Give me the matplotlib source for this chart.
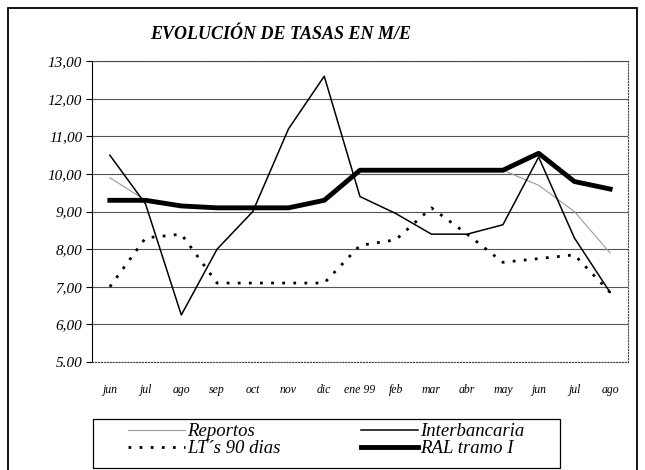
import numpy as np
import matplotlib
matplotlib.use("Agg")
from matplotlib import pyplot as plt
from matplotlib.patches import Rectangle

meses = ['jun', 'jul', 'ago', 'sep', 'oct', 'nov', 'dic', 'ene 99', 'feb',
         'mar', 'abr', 'may', 'jun', 'jul', 'ago']
reportos = [9.9, 9.3, 9.15, 9.1, 9.1, 9.1, 9.3, 10.1, 10.1, 10.1, 10.1, 10.1, 9.7, 9.0, 7.9]
interbancaria = [10.5, 9.2, 6.25, 8.0, 9.0, 11.2, 12.6, 9.4, 8.95, 8.4, 8.4, 8.65, 10.45, 8.3, 6.85]
lts_90 = [7.0, 8.3, 8.4, 7.1, 7.1, 7.1, 7.1, 8.1, 8.25, 9.1, 8.4, 7.65, 7.75, 7.85, 6.85]
ral_tramo = [9.3, 9.3, 9.15, 9.1, 9.1, 9.1, 9.3, 10.1, 10.1, 10.1, 10.1, 10.1, 10.55, 9.8, 9.6]
yticks = [5, 6, 7, 8, 9, 10, 11, 12, 13]
ylabels = ['5.00', '6,00', '7,00', '8,00', '9,00', '10,00', '11,00', '12,00', '13,00']

plt.rcParams['font.family'] = ['Liberation Serif', 'DejaVu Serif']

fig = plt.figure(figsize=(6.45, 4.70), dpi=100)
# outer frame of the sheet
fig.patches.append(Rectangle((0.0125, -0.02), 0.975, 1.004, transform=fig.transFigure,
                             fill=False, ec='black', lw=1.3))

ax = fig.add_axes([0.1426, 0.2298, 0.831, 0.640])
x = np.arange(len(meses))
l_rep, = ax.plot(x, reportos, color='#9a9a9a', lw=0.8, zorder=3)
l_int, = ax.plot(x, interbancaria, color='black', lw=1.1, zorder=4)
l_lts, = ax.plot(x, lts_90, color='black', lw=2.0, ls=(0, (1, 3)), zorder=4)
l_ral, = ax.plot(x, ral_tramo, color='black', lw=3.5, zorder=5)

ax.set_xlim(-0.5, len(meses) - 0.5)
ax.set_ylim(5, 13)
ax.set_yticks(yticks)
ax.set_yticklabels(ylabels, fontsize=11, style='italic')
ax.set_xticks(x)
ax.set_xticklabels(meses, fontsize=8.5, style='italic')
ax.tick_params(axis='x', length=0, pad=16)
ax.tick_params(axis='y', length=4, width=0.8, pad=3)
ax.grid(axis='y', color='#555555', lw=0.8)
for s in ax.spines.values():
    s.set_linestyle(':')
    s.set_color('#444444')
ax.spines['left'].set_linestyle('-')
ax.spines['left'].set_color('black')

fig.text(0.435, 0.926, 'EVOLUCIÓN DE TASAS EN M/E', ha='center', va='center',
         fontsize=13, style='italic', weight='bold')

# legend box drawn by hand, entries placed inside it
fig.patches.append(Rectangle((93 / 645, 1 - 468 / 470), 467 / 645, 49 / 470,
                             transform=fig.transFigure, fill=False, ec='black', lw=0.9))
leg = fig.legend(handles=[l_rep, l_lts, l_int, l_ral],
                 labels=['Reportos', "LT´s 90 dias", 'Interbancaria', 'RAL tramo I'],
                 loc='upper left', bbox_to_anchor=(128 / 645, 1 - 423 / 470),
                 ncol=2, frameon=False, prop={'size': 13.5, 'style': 'italic'},
                 handlelength=3.05, handletextpad=0.1, borderpad=0.0,
                 labelspacing=0.0, borderaxespad=0.0, columnspacing=4.3)

fig.savefig('out.png', dpi=100)
